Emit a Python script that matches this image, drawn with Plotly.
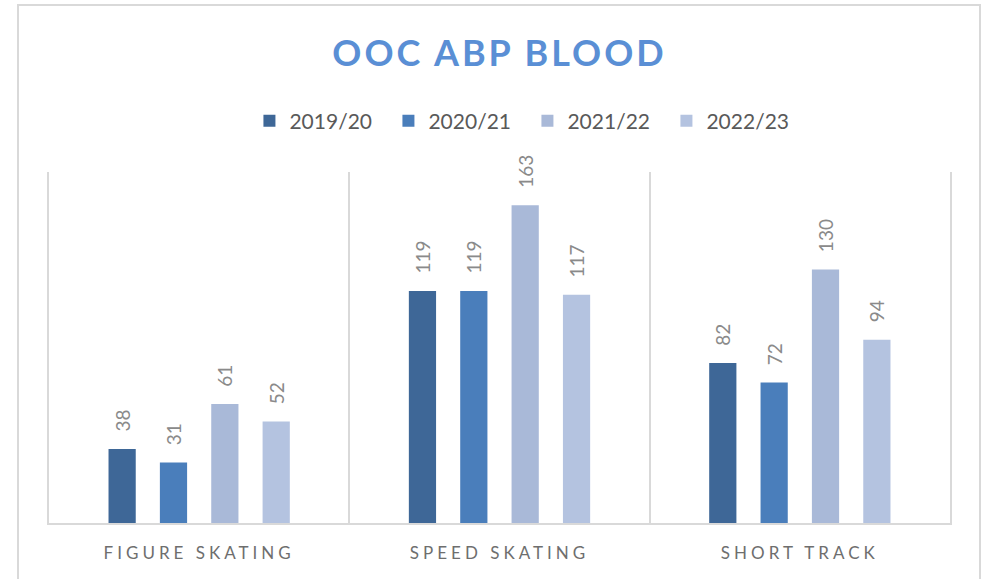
import plotly.graph_objects as go

categories = ["FIGURE SKATING", "SPEED SKATING", "SHORT TRACK"]
seasons = ["2019/20", "2020/21", "2021/22", "2022/23"]
values = {
    "2019/20": [38, 119, 82],
    "2020/21": [31, 119, 72],
    "2021/22": [61, 163, 130],
    "2022/23": [52, 117, 94],
}
colors = ["#3E6797", "#4A7EBB", "#A9B9D8", "#B4C3E0"]

FONT = "Lato"
tick_text = ['<span style="letter-spacing:4px">%s</span>' % c for c in categories]

fig = go.Figure()
for s, c in zip(seasons, colors):
    fig.add_trace(go.Bar(
        name=s, x=categories, y=values[s],
        marker=dict(color=c, line=dict(width=0)),
        texttemplate="\u2002\u00a0%{y}", textposition="outside", textangle=-90,
        textfont=dict(family=FONT, size=19, color="#8A8A8A"),
        constraintext="none", cliponaxis=False,
    ))

fig.update_layout(
    width=982, height=579,
    paper_bgcolor="white", plot_bgcolor="white",
    margin=dict(l=49, r=32, t=172, b=56),
    barmode="group", bargap=0.316, bargroupgap=0.47,
    title=dict(
        text='<span style="letter-spacing:3px">OOC ABP BLOOD</span>',
        font=dict(family=FONT, size=36, color="#5A8FD5", weight="bold"),
        x=0.5, xref="paper", xanchor="center", y=0.908, yanchor="middle",
    ),
    legend=dict(
        orientation="h", x=0.531, xanchor="center", y=1.145, yanchor="middle",
        font=dict(family=FONT, size=21, color="#595959"),
        entrywidth=94, entrywidthmode="pixels", traceorder="normal",
    ),
    showlegend=True,
    xaxis=dict(
        tickmode="array", tickvals=categories, ticktext=tick_text,
        tickson="boundaries", showgrid=True, gridcolor="#D9D9D9", gridwidth=2,
        showline=True, linecolor="#D9D9D9", linewidth=2,
        ticks="", ticklabelstandoff=14,
        tickfont=dict(family=FONT, size=17, color="#6E6E6E"),
    ),
    yaxis=dict(
        range=[0, 180], showticklabels=False, showgrid=False, zeroline=False,
        showline=True, mirror=True, linecolor="#D9D9D9", linewidth=2, ticks="",
    ),
)

fig.add_shape(type="rect", xref="paper", yref="paper",
              x0=-0.0344, x1=1.0333, y0=-0.3, y1=1.476,
              line=dict(color="#D9D9D9", width=2), fillcolor="rgba(0,0,0,0)", layer="below")

fig.write_html("out.html", config={"displayModeBar": False},
               post_script="document.body.style.margin='0';")
